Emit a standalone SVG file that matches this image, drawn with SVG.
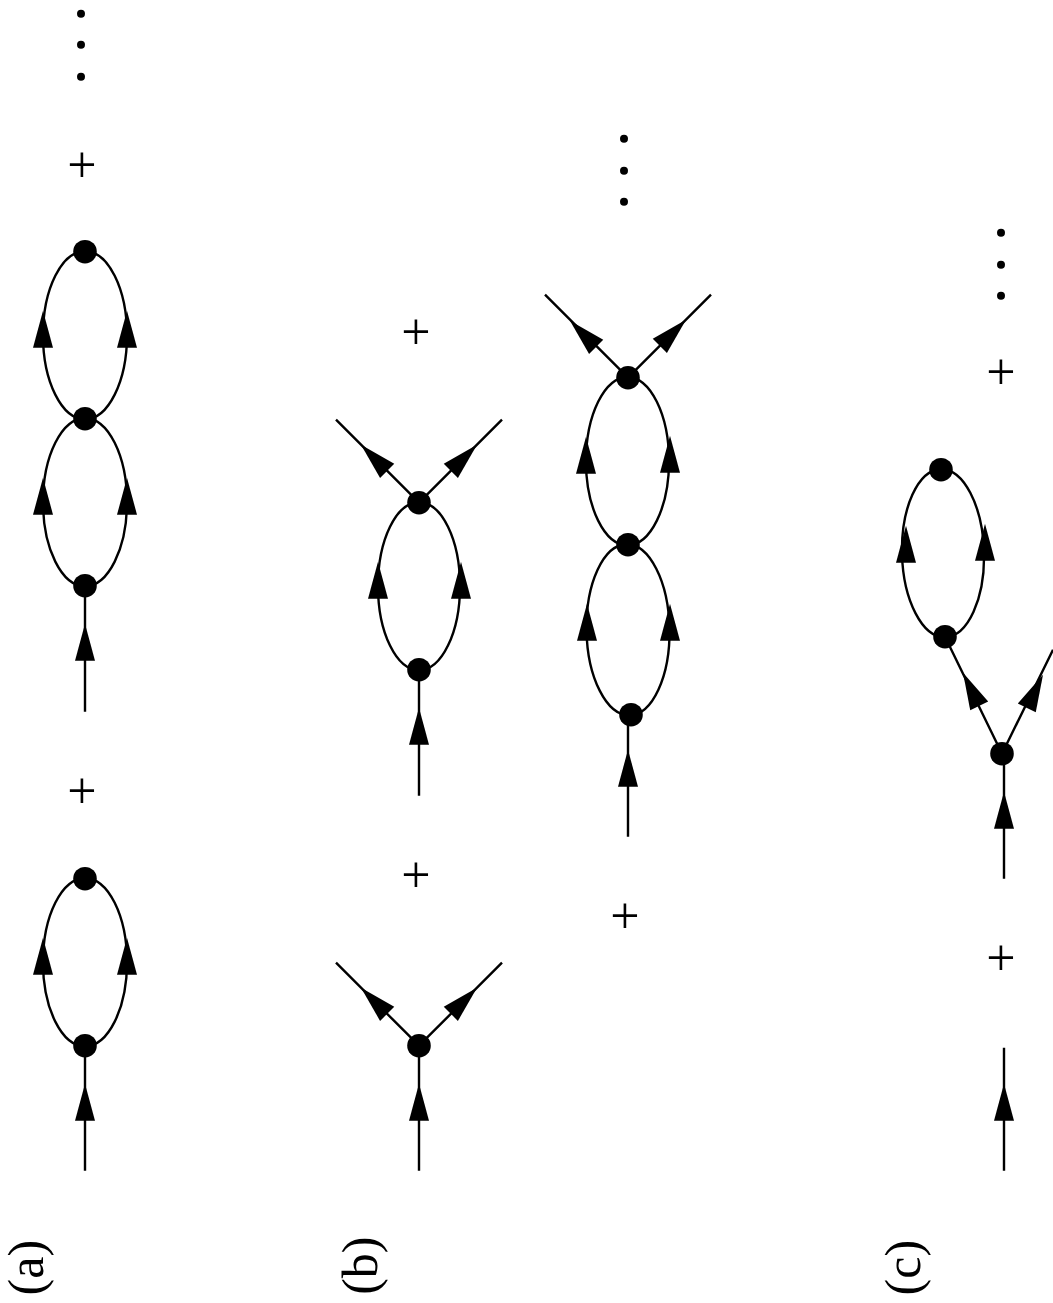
<svg xmlns="http://www.w3.org/2000/svg" width="1053" height="1303" viewBox="0 0 1053 1303">
<style>
.e{fill:none;stroke:#000;stroke-width:2.4}
.n{fill:#000}
.t{font-family:"Liberation Serif",serif;fill:#000;text-anchor:middle}
.p{font-size:52px}
.l{font-size:50px}
</style>
<defs><polygon id="h" points="0,0 10,37 -10,37" fill="#000"/></defs>
<rect width="1053" height="1303" fill="#fff"/>
<g transform="translate(0 0.7)">
<g id="connectors">
<g class="e">
<ellipse cx="85" cy="961.500" rx="42" ry="84"/>
<ellipse cx="85" cy="501.500" rx="42" ry="84"/>
<ellipse cx="85" cy="334.500" rx="42" ry="84"/>
<path d="M85 1045V1170M85 585V711"/>
<ellipse cx="419" cy="585.500" rx="41" ry="84"/>
<path d="M419 1045V1170M419 1045L336 962M419 1045L502 962M419 669V795M419 502L336 419M419 502L502 419"/>
<ellipse cx="627.500" cy="460.500" rx="41.500" ry="84"/>
<ellipse cx="628" cy="629" rx="41.500" ry="85.500" transform="rotate(-1 628 629)"/>
<path d="M628 714V836M628 377L545 294M628 377L711 294"/>
<ellipse cx="943" cy="552.500" rx="41" ry="84" transform="rotate(-1.500 943 552.500)"/>
<path d="M1002 753L945 636M1002 753L1053 649M1004 753V878M1004 1047V1170"/>
</g>
<use href="#h" x="85" y="1083"/><use href="#h" x="43" y="937"/><use href="#h" x="127" y="937"/>
<use href="#h" x="85" y="623"/><use href="#h" x="43" y="477"/><use href="#h" x="127" y="477"/>
<use href="#h" x="43" y="310"/><use href="#h" x="127" y="310"/>
<use href="#h" x="419" y="1083"/>
<use href="#h" transform="translate(361 987) rotate(-45)"/>
<use href="#h" transform="translate(477 987) rotate(45)"/>
<use href="#h" x="419" y="707"/><use href="#h" x="378" y="561"/><use href="#h" x="461" y="561"/>
<use href="#h" transform="translate(361 444) rotate(-45)"/>
<use href="#h" transform="translate(477 444) rotate(45)"/>
<use href="#h" x="628" y="749"/><use href="#h" x="587" y="603"/><use href="#h" x="670" y="603"/>
<use href="#h" x="586" y="436"/><use href="#h" x="670" y="435"/>
<use href="#h" transform="translate(570 320) rotate(-45)"/>
<use href="#h" transform="translate(686 319) rotate(45)"/>
<use href="#h" x="906" y="525"/><use href="#h" x="985" y="523"/>
<use href="#h" transform="translate(963 672) rotate(-26)"/>
<use href="#h" transform="translate(1043 674) rotate(26)"/>
<use href="#h" x="1004" y="791"/><use href="#h" x="1004" y="1083"/>
</g>
<g id="n-a1"><circle class="n" cx="85" cy="878" r="11.800"/></g>
<g id="n-a2"><circle class="n" cx="85" cy="1045" r="11.800"/></g>
<g id="n-a3"><circle class="n" cx="85" cy="251" r="11.800"/></g>
<g id="n-a4"><circle class="n" cx="85" cy="418" r="11.800"/></g>
<g id="n-a5"><circle class="n" cx="85" cy="585" r="11.800"/></g>
<g id="n-b1"><circle class="n" cx="419" cy="1045" r="11.800"/></g>
<g id="n-b2"><circle class="n" cx="419" cy="502" r="11.800"/></g>
<g id="n-b3"><circle class="n" cx="419" cy="669" r="11.800"/></g>
<g id="n-b4"><circle class="n" cx="628" cy="377" r="11.800"/></g>
<g id="n-b5"><circle class="n" cx="628" cy="544" r="11.800"/></g>
<g id="n-b6"><circle class="n" cx="631" cy="714" r="11.800"/></g>
<g id="n-c1"><circle class="n" cx="941" cy="469" r="11.800"/></g>
<g id="n-c2"><circle class="n" cx="945" cy="636" r="11.800"/></g>
<g id="n-c3"><circle class="n" cx="1002" cy="753" r="11.800"/></g>
<g id="dots">
<circle class="n" cx="81" cy="13" r="4"/><circle class="n" cx="81" cy="44" r="4"/><circle class="n" cx="81" cy="76" r="4"/>
<circle class="n" cx="624" cy="138" r="4"/><circle class="n" cx="624" cy="170" r="4"/><circle class="n" cx="624" cy="201" r="4"/>
<circle class="n" cx="1001" cy="232" r="4"/><circle class="n" cx="1001" cy="264" r="4"/><circle class="n" cx="1001" cy="295" r="4"/>
</g>
<g id="plus" class="t p">
<text x="82" y="181">+</text><text x="82" y="807">+</text>
<text x="416" y="348">+</text><text x="416" y="891">+</text>
<text x="625" y="932">+</text>
<text x="1001" y="388">+</text><text x="1001" y="974">+</text>
</g>
<g id="labels" class="t l">
<text transform="translate(43 1267) rotate(-90)">(a)</text>
<text transform="translate(377 1265) rotate(-90)">(b)</text>
<text transform="translate(920 1267) rotate(-90)">(c)</text>
</g>
</g>
</svg>
